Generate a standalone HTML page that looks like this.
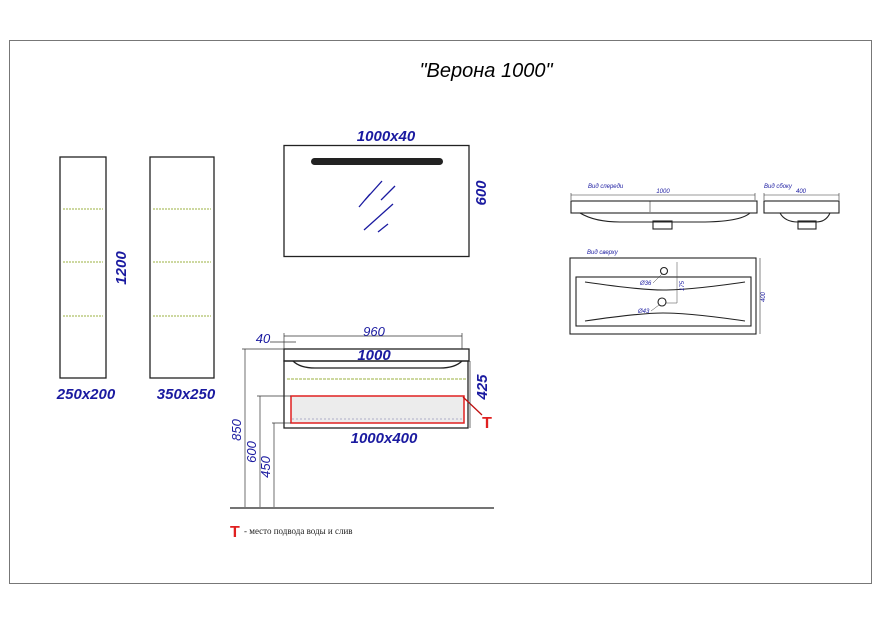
<!DOCTYPE html>
<html><head><meta charset="utf-8"><style>
html,body{margin:0;padding:0;background:#fff}
svg{display:block}
.d{font-family:"Liberation Sans",sans-serif;font-style:italic;font-weight:bold;fill:#1a1aa0}
.s{font-family:"Liberation Sans",sans-serif;font-style:italic;fill:#1a1aa0;font-size:6px}
</style></head><body>
<svg width="881" height="623" viewBox="0 0 881 623" xmlns="http://www.w3.org/2000/svg">
<rect x="9.5" y="40.5" width="862" height="543" fill="none" stroke="#777" stroke-width="1"/>
<text x="486" y="77" text-anchor="middle" font-family="Liberation Sans,sans-serif" font-style="italic" font-size="20">"Верона 1000"</text>

<g fill="none" stroke="#222" stroke-width="1.3">
<rect x="60" y="157" width="46" height="221"/>
<rect x="150" y="157" width="64" height="221"/>
</g>
<g stroke="#cdd8a0" stroke-dasharray="2,1" stroke-width="2">
<line x1="63" y1="209" x2="103" y2="209"/><line x1="63" y1="262" x2="103" y2="262"/><line x1="63" y1="316" x2="103" y2="316"/>
<line x1="153" y1="209" x2="211" y2="209"/><line x1="153" y1="262" x2="211" y2="262"/><line x1="153" y1="316" x2="211" y2="316"/>
</g>
<text class="d" font-size="15" transform="translate(126,268) rotate(-90)" text-anchor="middle">1200</text>
<text class="d" font-size="15" x="86" y="399" text-anchor="middle">250x200</text>
<text class="d" font-size="15" x="186" y="399" text-anchor="middle">350x250</text>

<rect x="284" y="145.5" width="185" height="111" fill="none" stroke="#222" stroke-width="1.3"/>
<rect x="311" y="158" width="132" height="7" rx="3.5" fill="#222"/>
<g stroke="#1a1aa0" stroke-width="1.3">
<line x1="365" y1="200" x2="382" y2="181"/><line x1="359" y1="207" x2="370" y2="194"/>
<line x1="381" y1="200" x2="395" y2="186"/><line x1="364" y1="230" x2="393" y2="204"/><line x1="378" y1="232" x2="388" y2="224"/>
</g>
<text class="d" font-size="15" x="386" y="141" text-anchor="middle">1000x40</text>
<text class="d" font-size="15" transform="translate(486,193) rotate(-90)" text-anchor="middle">600</text>

<g fill="none" stroke="#222" stroke-width="1.3">
<rect x="284" y="349" width="185" height="12"/>
<rect x="284" y="361" width="184" height="67"/>
<path d="M293 361 Q300 368 315 368 L440 368 Q455 368 462 361"/>
</g>
<line x1="287" y1="379" x2="467" y2="379" stroke="#cdd8a0" stroke-width="2" stroke-dasharray="3,1"/>
<rect x="291" y="396" width="173" height="27" fill="#ececec" stroke="#e02020" stroke-width="1.5"/>
<line x1="292" y1="419" x2="463" y2="419" stroke="#99b" stroke-dasharray="2,2" stroke-width="0.7"/>
<line x1="463" y1="397" x2="482" y2="415" stroke="#c01010" stroke-width="1.3"/>
<text x="487" y="428" text-anchor="middle" font-family="Liberation Sans,sans-serif" font-weight="bold" font-size="16" fill="#e02020">T</text>
<g stroke="#333" stroke-width="0.7" fill="none">
<line x1="284" y1="336" x2="462" y2="336"/><line x1="284" y1="333" x2="284" y2="349"/><line x1="462" y1="333" x2="462" y2="349"/>
<line x1="270" y1="342" x2="296" y2="342"/>
<line x1="242" y1="349" x2="284" y2="349"/><line x1="245" y1="349" x2="245" y2="507"/>
<line x1="257" y1="396" x2="291" y2="396"/><line x1="260" y1="396" x2="260" y2="507"/>
<line x1="272" y1="423" x2="291" y2="423"/><line x1="274" y1="423" x2="274" y2="507"/>
<line x1="470" y1="361" x2="470" y2="428"/>
</g>
<line x1="230" y1="508" x2="494" y2="508" stroke="#222" stroke-width="1.3"/>
<text class="d" font-size="13" x="263" y="343" text-anchor="middle" style="font-weight:normal">40</text>
<text class="d" font-size="13" x="374" y="336" text-anchor="middle" style="font-weight:normal">960</text>
<text class="d" font-size="15" x="374" y="360" text-anchor="middle">1000</text>
<text class="d" font-size="15" transform="translate(487,387) rotate(-90)" text-anchor="middle">425</text>
<text class="d" font-size="15" x="384" y="443" text-anchor="middle">1000x400</text>
<text class="d" font-size="13" transform="translate(241,430) rotate(-90)" text-anchor="middle" style="font-weight:normal">850</text>
<text class="d" font-size="13" transform="translate(256,452) rotate(-90)" text-anchor="middle" style="font-weight:normal">600</text>
<text class="d" font-size="13" transform="translate(270,467) rotate(-90)" text-anchor="middle" style="font-weight:normal">450</text>
<text x="230" y="537" font-family="Liberation Sans,sans-serif" font-weight="bold" font-size="16" fill="#e02020">T</text>
<text x="244" y="534" font-family="Liberation Serif,serif" font-size="9" fill="#222">- место подвода воды и слив</text>

<text class="s" x="588" y="188">Вид спереди</text>
<text class="s" x="764" y="188">Вид сбоку</text>
<text class="s" x="587" y="254">Вид сверху</text>
<g stroke="#333" stroke-width="0.6" fill="none">
<line x1="571" y1="195" x2="755" y2="195"/><line x1="571" y1="193" x2="571" y2="200"/><line x1="755" y1="193" x2="755" y2="200"/>
<line x1="764" y1="195" x2="839" y2="195"/><line x1="764" y1="193" x2="764" y2="200"/><line x1="839" y1="193" x2="839" y2="200"/>
<line x1="760" y1="258" x2="760" y2="334"/>
<line x1="650" y1="201" x2="650" y2="212"/>
</g>
<text class="s" x="663" y="193" text-anchor="middle">1000</text>
<text class="s" x="801" y="193" text-anchor="middle">400</text>
<g fill="none" stroke="#222" stroke-width="1.1">
<rect x="571" y="201" width="186" height="12"/>
<path d="M580 213 Q595 222 620 222 L700 222 Q740 222 750 213"/>
<rect x="653" y="221" width="19" height="8"/>
<rect x="764" y="201" width="75" height="12"/>
<path d="M780 213 Q785 222 798 222 L816 222 Q826 222 830 213"/>
<rect x="798" y="221" width="18" height="8"/>
<rect x="570" y="258" width="186" height="76"/>
<rect x="576" y="277" width="175" height="49"/>
<path d="M585 282 Q640 290 663 290 Q690 290 745 282"/>
<path d="M585 321 Q640 313 663 313 Q690 313 745 321"/>
<circle cx="664" cy="271" r="3.5"/><circle cx="662" cy="302" r="4"/>
</g>
<g stroke="#444" stroke-width="0.5" fill="none">
<line x1="653" y1="283" x2="662" y2="274"/><line x1="651" y1="311" x2="659" y2="305"/>
<line x1="677" y1="262" x2="677" y2="303"/><line x1="665" y1="303" x2="677" y2="303"/>
</g>
<text class="s" x="640" y="285">Ø36</text><text class="s" x="638" y="313">Ø43</text>
<text class="s" transform="translate(765,297) rotate(-90)" text-anchor="middle">400</text>
<text class="s" transform="translate(684,286) rotate(-90)" text-anchor="middle">175</text>
</svg>
</body></html>
